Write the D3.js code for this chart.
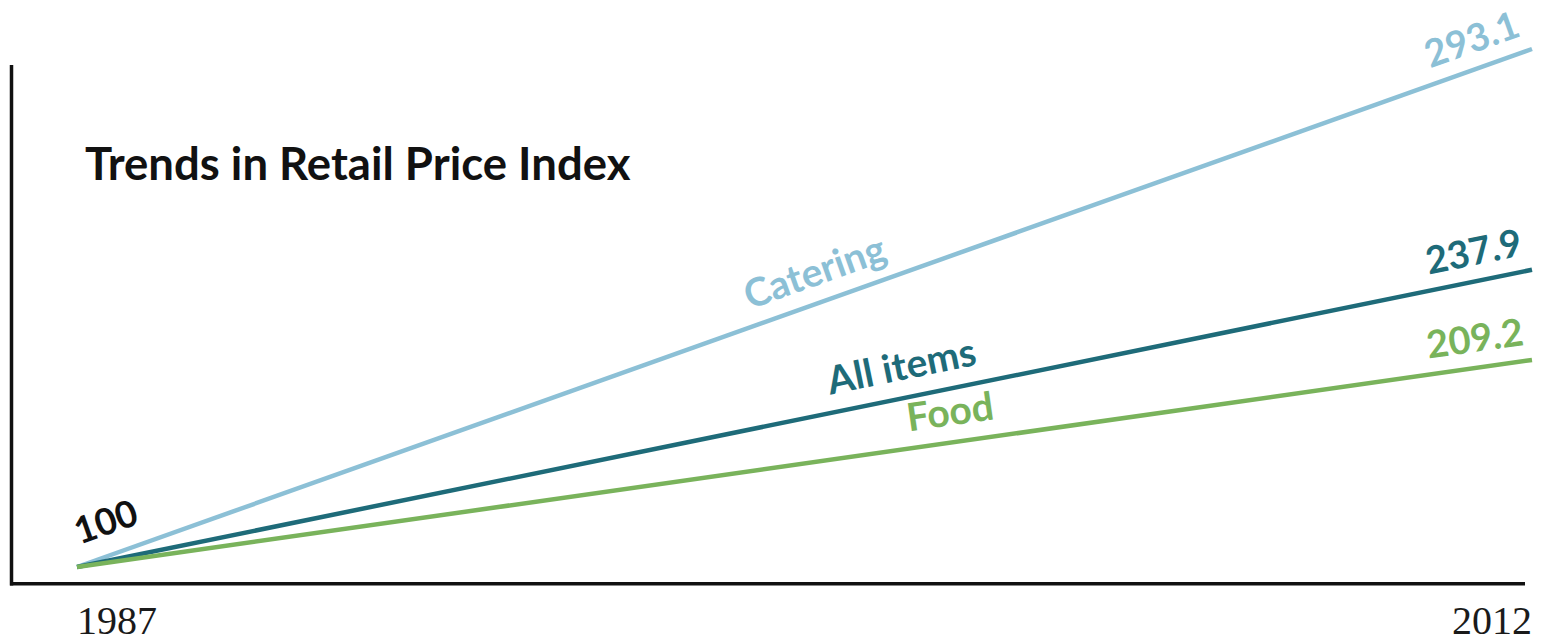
<!DOCTYPE html>
<html>
<head>
<meta charset="utf-8">
<script src="https://cdn.jsdelivr.net/npm/d3@7"></script>
<style>
  html, body { margin: 0; padding: 0; background: #ffffff; }
  svg { display: block; }
</style>
</head>
<body>
<svg id="chart" width="1541" height="643"></svg>
<script>
// Index values (1987 = 100)
const years = [1987, 2012];
const seriesNames = ["Catering", "All items", "Food"];
const catering = [100, 293.1];
const allItems = [100, 237.9];
const food = [100, 209.2];
const yearLabels = ["1987", "2012"];
const baseLabel = "100";
const title = "Trends in Retail Price Index";

const seriesValues = [catering, allItems, food];
const seriesColors = ["#8cc0d6", "#1e6b79", "#79b35b"];

// where the name sits along each line (fraction of length) and how far above it
const nameAlong = [0.514, 0.571, 0.603];
const nameOffset = [17, 18, 17];

const svg = d3.select("#chart");

const x = d3.scaleLinear()
  .domain(d3.extent(years))
  .range([77, 1532]);

// the index lines are drawn on a power scale so the spread between series reads clearly
const y = d3.scalePow()
  .exponent(2.4)
  .domain([100, d3.max(seriesValues, s => d3.max(s))])
  .range([567, 49]);

// axes: plain left and bottom rules, no ticks
const axisG = svg.append("g");
axisG.append("line")
  .attr("x1", 11.5).attr("x2", 11.5)
  .attr("y1", 65).attr("y2", 585.5)
  .attr("stroke", "#111").attr("stroke-width", 3.5);
axisG.append("line")
  .attr("x1", 10).attr("x2", 1525)
  .attr("y1", 583.8).attr("y2", 583.8)
  .attr("stroke", "#111").attr("stroke-width", 3.5);

// title
svg.append("text")
  .attr("x", 85).attr("y", 180)
  .attr("font-family", "Lato, 'Open Sans', sans-serif")
  .attr("font-weight", 700)
  .attr("font-size", 45.5)
  .attr("fill", "#111")
  .text(title);

// year labels under the axis
svg.selectAll("text.year")
  .data(years)
  .join("text")
  .attr("class", "year")
  .attr("x", d => x(d))
  .attr("y", 634)
  .attr("text-anchor", (d, i) => i === 0 ? "start" : "end")
  .attr("font-family", "'Liberation Serif', 'DejaVu Serif', serif")
  .style("font-variant-numeric", "oldstyle-nums")
  .attr("font-size", 40)
  .attr("fill", "#1a1a1a")
  .text((d, i) => yearLabels[i]);

const line = d3.line()
  .x(d => x(d.year))
  .y(d => y(d.value));

const series = seriesNames.map((name, i) => ({
  name,
  color: seriesColors[i],
  points: years.map((yr, j) => ({ year: yr, value: seriesValues[i][j] }))
}));

// geometry helper: point at fraction t along a series line, and its angle
function along(s, t) {
  const p0 = [x(s.points[0].year), y(s.points[0].value)];
  const p1 = [x(s.points[1].year), y(s.points[1].value)];
  return {
    px: p0[0] + t * (p1[0] - p0[0]),
    py: p0[1] + t * (p1[1] - p0[1]),
    angle: Math.atan2(p1[1] - p0[1], p1[0] - p0[0]) * 180 / Math.PI
  };
}

const labelFont = "Lato, 'Open Sans', sans-serif";

// lines
svg.append("g")
  .selectAll("path")
  .data(series)
  .join("path")
  .attr("d", d => line(d.points))
  .attr("fill", "none")
  .attr("stroke", d => d.color)
  .attr("stroke-width", 4.5)
  .attr("stroke-linecap", "butt");

// series names, set along their lines
svg.append("g")
  .selectAll("text")
  .data(series)
  .join("text")
  .attr("transform", (d, i) => {
    const a = along(d, nameAlong[i]);
    return `translate(${a.px},${a.py}) rotate(${a.angle})`;
  })
  .attr("y", (d, i) => -nameOffset[i])
  .attr("text-anchor", "middle")
  .attr("font-family", labelFont)
  .attr("font-weight", 700)
  .attr("font-size", 39)
  .attr("fill", d => d.color)
  .text(d => d.name);

// end values
const fmt = d3.format(".1f");
svg.append("g")
  .selectAll("text")
  .data(series)
  .join("text")
  .attr("transform", d => {
    const a = along(d, 1);
    return `translate(${a.px},${a.py}) rotate(${a.angle})`;
  })
  .attr("x", -5)
  .attr("y", -16)
  .attr("text-anchor", "end")
  .attr("font-family", labelFont)
  .attr("font-weight", 700)
  .attr("font-size", 38)
  .attr("fill", d => d.color)
  .text(d => fmt(d.points[1].value));

// common starting value
{
  const a = along(series[0], 0);
  svg.append("text")
    .attr("transform", `translate(${a.px},${a.py}) rotate(${a.angle})`)
    .attr("x", 10)
    .attr("y", -20)
    .attr("font-family", labelFont)
    .attr("font-weight", 700)
    .attr("font-size", 37)
    .attr("fill", "#111")
    .text(baseLabel);
}
</script>
</body>
</html>
